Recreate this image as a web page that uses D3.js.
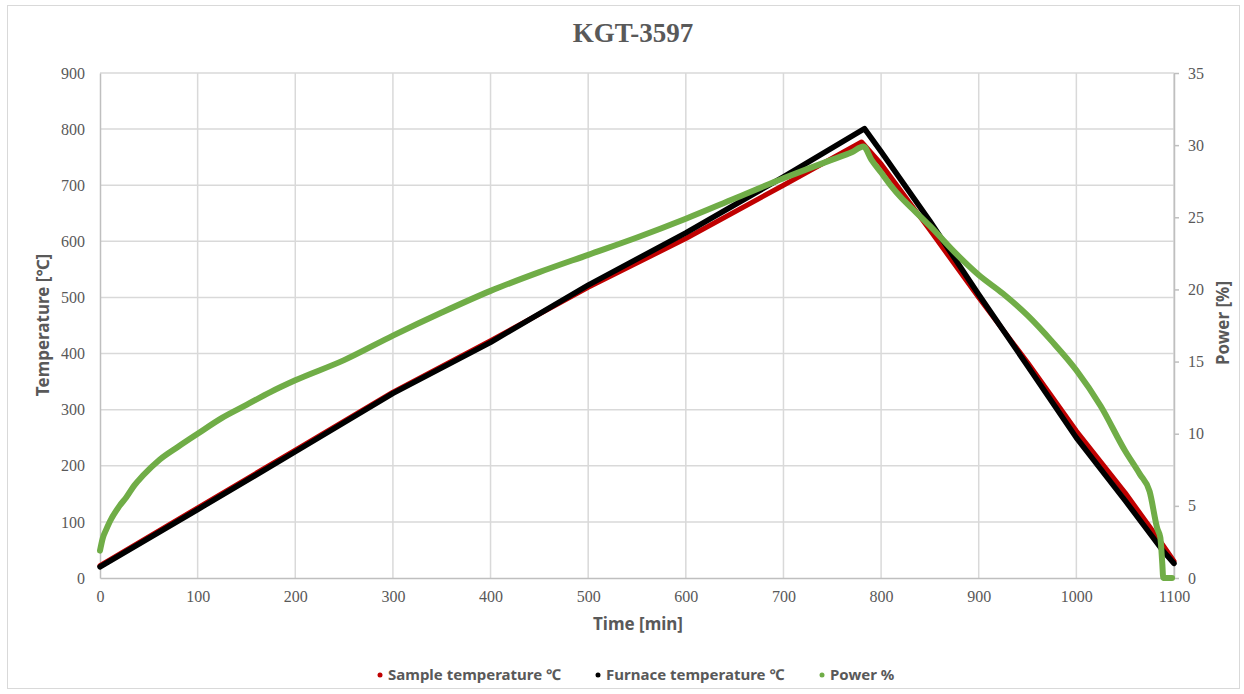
<!DOCTYPE html>
<html>
<head>
<meta charset="utf-8">
<script src="https://cdn.jsdelivr.net/npm/d3@7"></script>
<style>
  body { margin: 0; background: #fff; }
  .tick text { font-family: "Liberation Serif", serif; font-size: 16px; fill: #595959; }
  .axis-title { font-family: "Noto Sans", "DejaVu Sans", sans-serif; font-weight: bold; font-size: 17px; fill: #595959; }
  .legend text { font-family: "Noto Sans", "DejaVu Sans", sans-serif; font-weight: bold; font-size: 15px; fill: #595959; }
</style>
</head>
<body>
<svg id="chart" width="1244" height="694"></svg>
<script>
// values
const sampleTime = [0, 100, 200, 300, 400, 500, 600, 700, 780, 800, 850, 900, 950, 1000, 1050, 1088, 1100];
const sampleTemp = [22, 125, 228, 331, 423, 518, 605, 700, 777, 738, 620, 500, 384, 262, 152, 60, 30];

const furnaceTime = [0, 100, 200, 300, 400, 500, 600, 700, 783, 800, 850, 900, 950, 1000, 1050, 1088, 1100];
const furnaceTemp = [20, 122, 225, 329, 420, 522, 615, 715, 801, 760, 636, 505, 378, 250, 138, 50, 26];

const powerTime = [0, 3, 6, 10, 20, 27, 35, 44, 61, 80, 100, 125, 150, 175, 200, 250, 300, 350, 400,
  450, 500, 550, 600, 650, 700, 750, 770, 782, 790, 800, 810, 820, 835, 850, 875, 900, 925, 950, 975, 1000,
  1025, 1050, 1065, 1075, 1083, 1086, 1088, 1089, 1098];
const powerPct = [1.9, 2.8, 3.3, 3.9, 5.0, 5.6, 6.4, 7.1, 8.2, 9.1, 10.0, 11.1, 12.0, 12.9, 13.7, 15.1,
  16.8, 18.4, 19.9, 21.2, 22.4, 23.6, 24.9, 26.3, 27.7, 29.0, 29.5, 29.9, 29.0, 28.1, 27.2, 26.4, 25.4, 24.4,
  22.6, 21.0, 19.7, 18.2, 16.4, 14.4, 11.9, 8.8, 7.2, 6.0, 3.4, 2.8, 1.0, 0, 0];

const timeTicks = [0, 100, 200, 300, 400, 500, 600, 700, 800, 900, 1000, 1100];
const tempTicks = [0, 100, 200, 300, 400, 500, 600, 700, 800, 900];
const powerTicks = [0, 5, 10, 15, 20, 25, 30, 35];

const seriesNames = ["Sample temperature ℃", "Furnace temperature ℃", "Power %"];
const seriesColors = ["#c00000", "#000000", "#70ad47"];

const svg = d3.select("#chart");
const plotL = 100, plotR = 1174, plotT = 73, plotB = 578;

// outer frame
svg.append("rect")
  .attr("x", 7.5).attr("y", 5.5)
  .attr("width", 1232).attr("height", 683)
  .attr("fill", "none")
  .attr("stroke", "#d9d9d9");

let x = d3.scaleLinear().domain([0, 1100]).range([plotL, plotR]);
let yT = d3.scaleLinear().domain([0, 900]).range([plotB, plotT]);
let yP = d3.scaleLinear().domain([0, 35]).range([plotB, plotT]);

// grid
svg.append("g")
  .selectAll("line")
  .data(timeTicks.slice(1))
  .join("line")
  .attr("x1", d => x(d)).attr("x2", d => x(d))
  .attr("y1", plotT).attr("y2", plotB)
  .attr("stroke", "#d9d9d9").attr("stroke-width", 1.5);

svg.append("g")
  .selectAll("line")
  .data(tempTicks.slice(1))
  .join("line")
  .attr("x1", plotL).attr("x2", plotR)
  .attr("y1", d => yT(d)).attr("y2", d => yT(d))
  .attr("stroke", "#d9d9d9").attr("stroke-width", 1.5);

// axes
let xAxis = svg.append("g")
  .attr("transform", "translate(0," + plotB + ")")
  .call(d3.axisBottom(x).tickValues(timeTicks).tickFormat(d3.format("d")).tickSize(0).tickPadding(13));
xAxis.select(".domain").attr("stroke", "#bfbfbf").attr("stroke-width", 1.5);

let yAxisL = svg.append("g")
  .attr("transform", "translate(" + plotL + ",0)")
  .call(d3.axisLeft(yT).tickValues(tempTicks).tickSize(0).tickPadding(15));
yAxisL.select(".domain").attr("stroke", "#bfbfbf").attr("stroke-width", 1.5);

let yAxisR = svg.append("g")
  .attr("transform", "translate(" + plotR + ",0)")
  .call(d3.axisRight(yP).tickValues(powerTicks).tickSizeInner(5).tickSizeOuter(0).tickPadding(9));
yAxisR.select(".domain").attr("stroke", "#bfbfbf").attr("stroke-width", 1.5);
yAxisR.selectAll(".tick line").attr("stroke", "#bfbfbf").attr("stroke-width", 1.5);

// series
function drawSeries(times, vals, yScale, color, width, curve) {
  let pts = times.map((t, i) => [x(t), yScale(vals[i])]);
  svg.append("path")
    .attr("d", d3.line().curve(curve)(pts))
    .attr("fill", "none")
    .attr("stroke", color)
    .attr("stroke-width", width)
    .attr("stroke-linejoin", "round")
    .attr("stroke-linecap", "round");
}
drawSeries(sampleTime, sampleTemp, yT, seriesColors[0], 5, d3.curveLinear);
drawSeries(furnaceTime, furnaceTemp, yT, seriesColors[1], 5.5, d3.curveLinear);
drawSeries(powerTime, powerPct, yP, seriesColors[2], 6, d3.curveMonotoneX);

// titles
svg.append("text")
  .attr("x", 633).attr("y", 42)
  .attr("text-anchor", "middle")
  .style("font-family", "'Liberation Serif', serif")
  .style("font-weight", "bold")
  .style("font-size", "27px")
  .style("fill", "#595959")
  .text("KGT-3597");

svg.append("text")
  .attr("class", "axis-title")
  .attr("x", 638).attr("y", 630)
  .attr("text-anchor", "middle")
  .text("Time [min]");

svg.append("text")
  .attr("class", "axis-title")
  .attr("transform", "translate(49,325) rotate(-90)")
  .attr("text-anchor", "middle")
  .text("Temperature [℃]");

svg.append("text")
  .attr("class", "axis-title")
  .attr("transform", "translate(1229,323) rotate(-90)")
  .attr("text-anchor", "middle")
  .text("Power [%]");

// legend
const legendX = [380, 598, 822];
let legend = svg.append("g").attr("class", "legend");
for (let k = 0; k < seriesNames.length; k++) {
  legend.append("circle")
    .attr("cx", legendX[k]).attr("cy", 675)
    .attr("r", 2.5)
    .attr("fill", seriesColors[k]);
  legend.append("text")
    .attr("x", legendX[k] + 8).attr("y", 680)
    .text(seriesNames[k]);
}
</script>
</body>
</html>
